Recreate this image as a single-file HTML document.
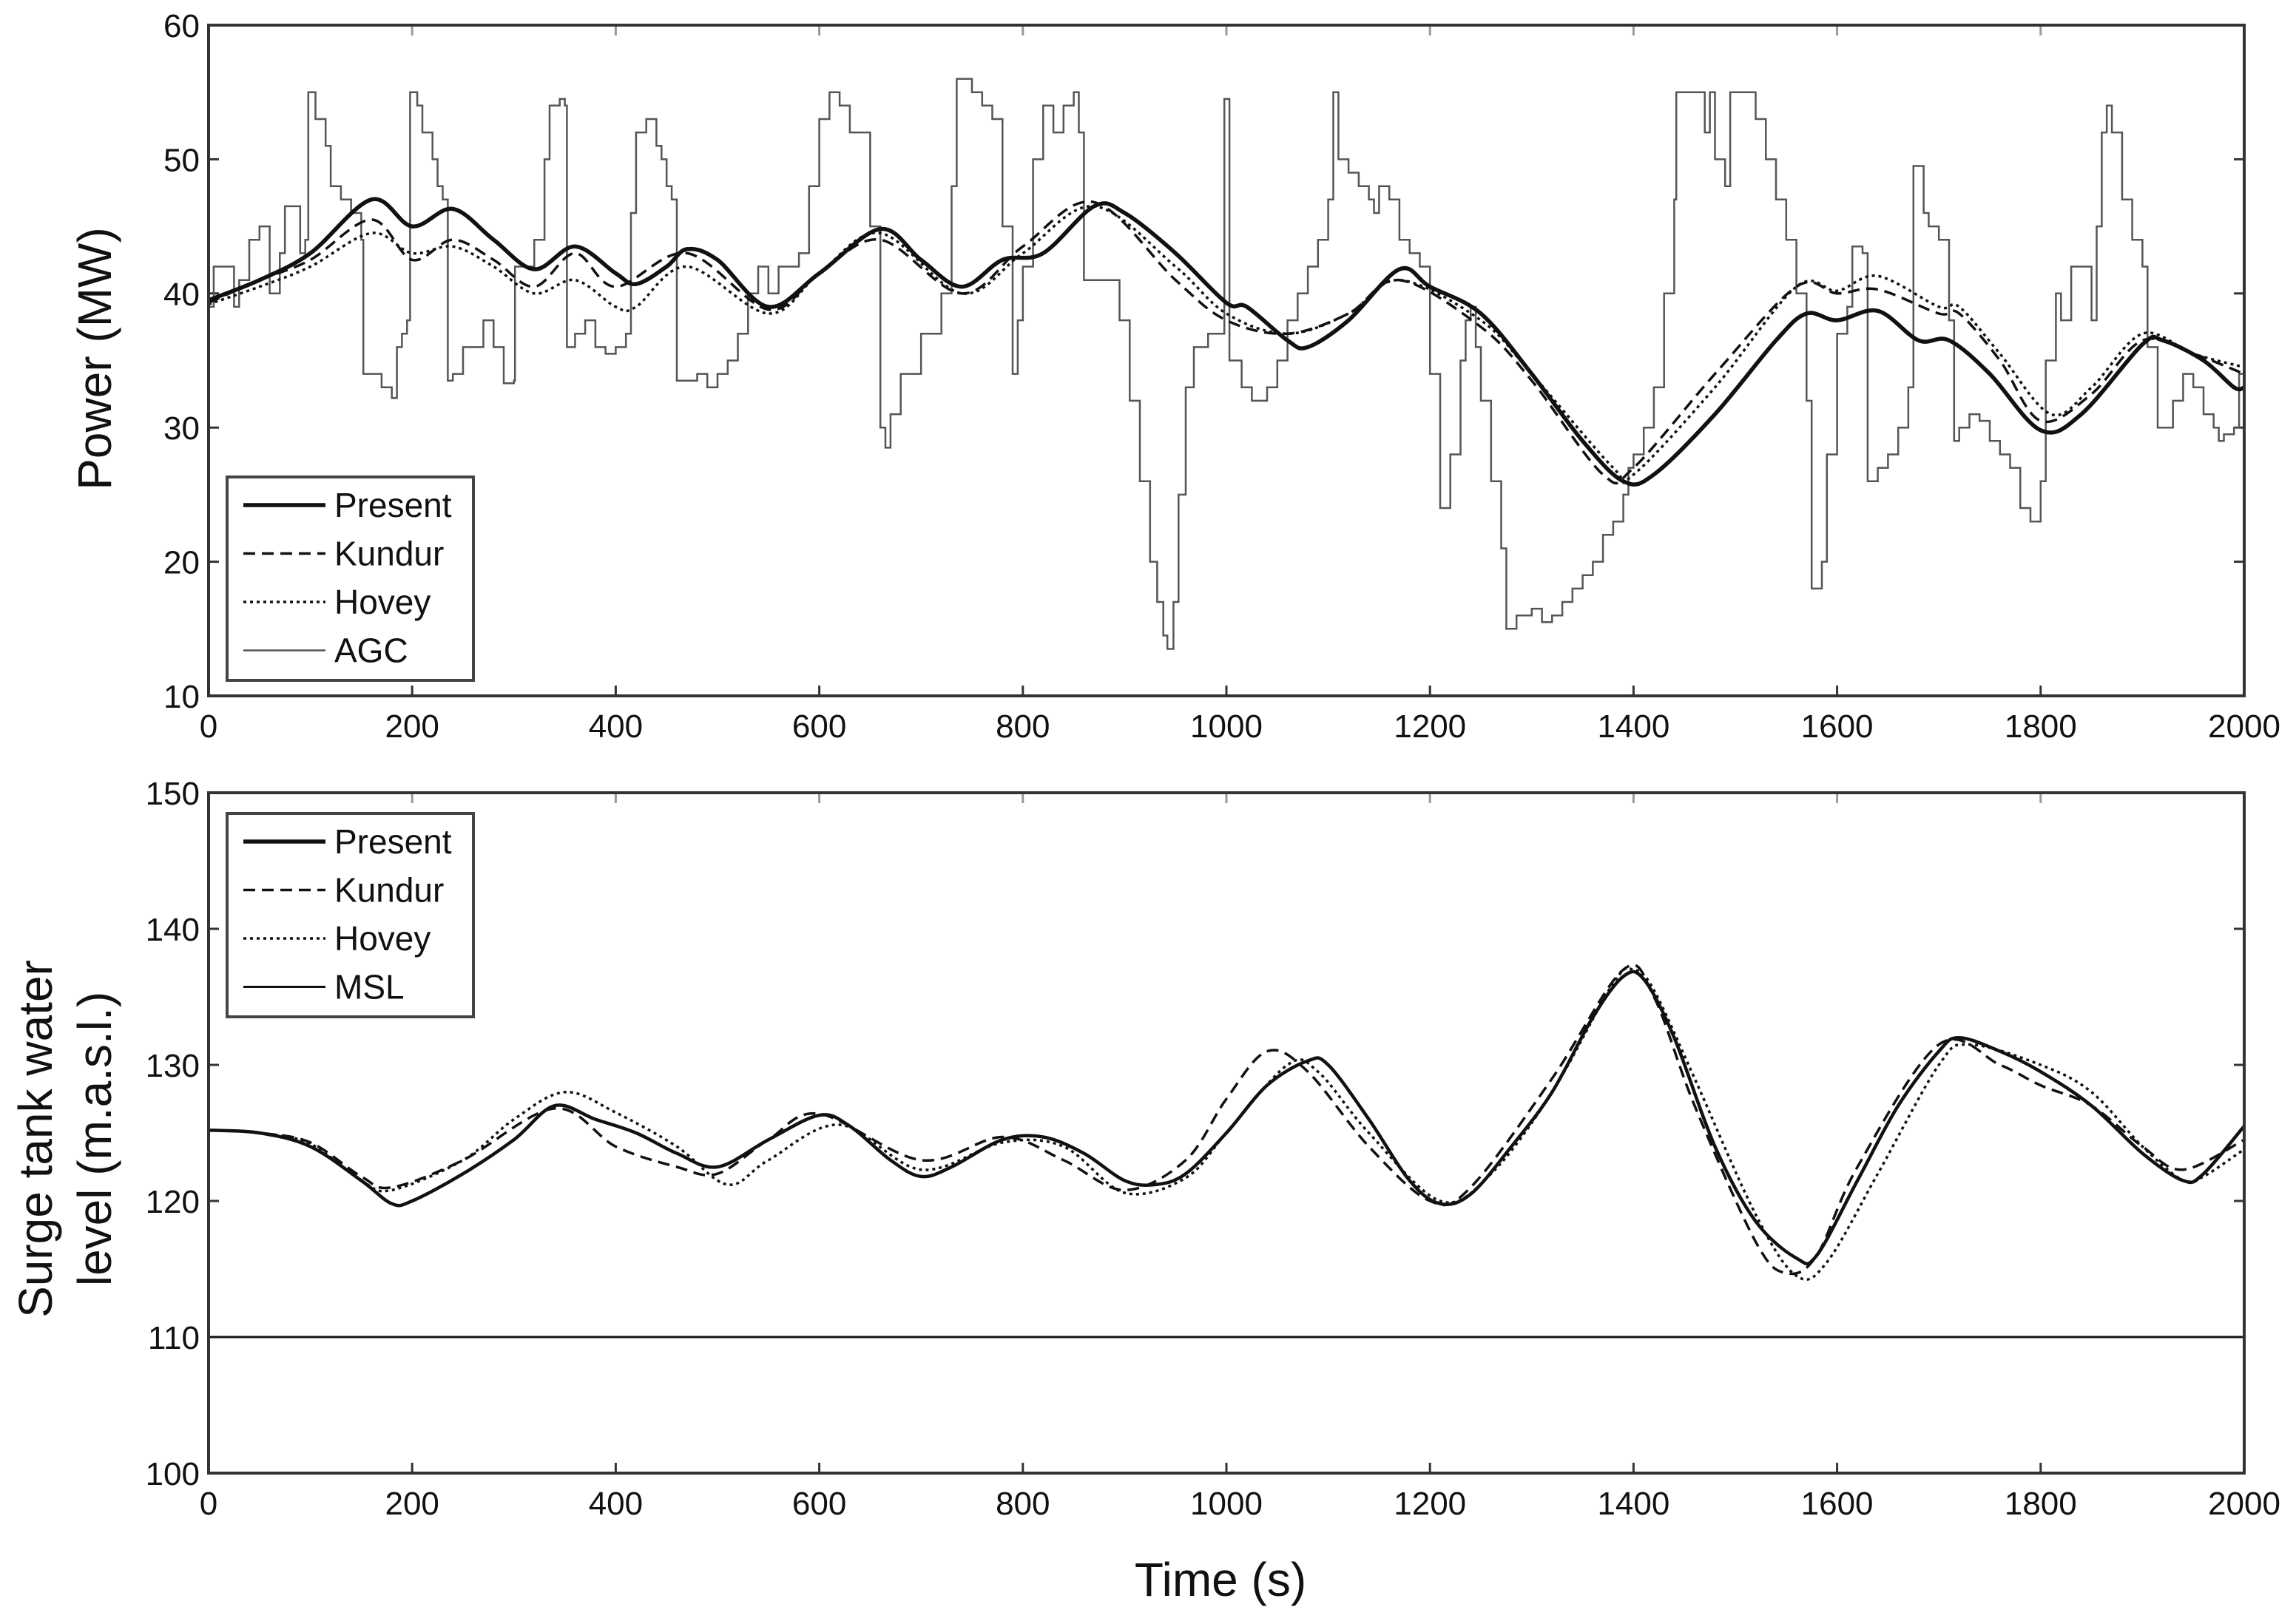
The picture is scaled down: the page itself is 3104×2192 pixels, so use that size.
<!DOCTYPE html>
<html><head><meta charset="utf-8"><style>
html,body{margin:0;padding:0;background:#fff;}
svg{display:block;font-family:"Liberation Sans",sans-serif;}
</style></head><body>
<svg id="fig" width="3104" height="2192" viewBox="0 0 3104 2192" xmlns="http://www.w3.org/2000/svg">
<g id="top"></g>
<g id="bot"></g>
<text x="1650" y="2158" font-size="64" text-anchor="middle" fill="#111">Time (s)</text>
<text transform="translate(150,485) rotate(-90)" font-size="64" text-anchor="middle" fill="#111">Power (MW)</text>
<text transform="translate(70,1540) rotate(-90)" font-size="64" text-anchor="middle" fill="#111">Surge tank water</text>
<text transform="translate(150,1540) rotate(-90)" font-size="64" text-anchor="middle" fill="#111">level (m.a.s.l.)</text>
</svg>
<script>
// ---- data ----
const xTicks = [0,200,400,600,800,1000,1200,1400,1600,1800,2000];
const powerTicks = [10,20,30,40,50,60];
const levelTicks = [100,110,120,130,140,150];

const presentPT = [0,50,100,160,200,240,280,320,360,400,420,450,470,500,550,600,660,700,740,780,820,870,900,950,1000,1020,1060,1080,1120,1170,1200,1250,1300,1350,1390,1420,1480,1540,1570,1600,1640,1680,1710,1750,1800,1840,1900,1920,1960,1990,2000];
const presentPV = [39.5,41,43,47,45,46.3,44,41.8,43.5,41.5,40.7,42,43.3,42.5,39,41.5,44.8,42.5,40.5,42.5,43,46.5,46,43,39.3,39,36.5,36,38,41.8,40.5,38.5,34,29,26,26.5,31,36.5,38.5,38,38.7,36.5,36.5,34,29.8,31,36.2,36.5,35,33,33];
const kundurPT = [0,50,100,160,200,240,280,320,360,400,470,550,600,660,740,800,870,950,1000,1060,1120,1170,1250,1300,1370,1400,1480,1560,1600,1640,1700,1720,1760,1800,1850,1900,1950,2000];
const kundurPV = [39.3,41,42.5,45.5,42.5,44,42.5,40.5,43,40.5,43,38.8,41.5,44,40,43.5,46.8,41,38,37,38.5,41,37.5,33.5,26.5,27,34,40.5,40,40.3,38.5,38.5,35,30.5,32.5,36.5,35.5,34];
const hoveyPT = [0,50,100,160,200,240,280,320,360,400,420,470,550,600,660,740,800,870,950,1000,1060,1120,1170,1250,1300,1380,1400,1480,1560,1600,1640,1700,1720,1760,1810,1850,1900,1950,2000];
const hoveyPV = [39.2,40.5,42,44.5,43,43.5,42,40,41,39,39,42,38.5,41.5,44.5,40,43,46.5,42,38.5,37,38.5,41,38,34,27,26.5,33,40.5,40.2,41.3,39,39,35.5,31,33,37,35.5,34.5];
const agcT = [0,5,20,25,30,40,50,60,70,75,85,90,95,98,105,115,120,130,140,150,152,160,170,180,185,190,195,198,205,210,220,225,230,235,240,250,260,270,280,290,300,301,310,320,330,335,345,350,352,360,370,380,390,400,410,415,420,430,440,445,450,455,460,470,480,490,500,510,520,530,540,550,560,580,590,600,610,620,630,650,660,665,670,680,700,720,730,735,750,760,770,780,790,795,800,810,820,830,840,850,855,
860,880,895,905,915,925,932,938,942,948,953,960,968,982,998,1003,1015,1025,1040,1050,1060,1070,1080,1090,1100,
1105,1110,1120,1130,1140,1145,1150,1160,1170,1180,1190,1200,1210,1220,1230,1235,1240,1245,1250,1260,1270,1275,1285,1300,1310,1320,1330,1340,1350,1360,1370,1380,1390,1395,1400,1410,1420,1430,1440,1442,1460,1470,1475,1480,1490,1495,1510,1520,1530,1540,1550,1560,1570,1575,1585,1590,1600,1610,1615,1625,1630,1640,1650,1660,1670,1675,1685,1690,1700,1710,1715,1720,1730,1740,1750,1760,1770,1780,1790,1800,1805,1815,1820,1830,1840,1850,1855,1860,1865,1870,1880,1890,1900,1905,1915,1930,1940,1950,1960,1970,1975,1980,1990,1995,2000];
const agcV = [39,42,42,39,41,44,45,40,43,46.5,46.5,43,44,55,53,51,48,47,46,44,34,34,33,32.2,36,37,38,55,54,52,50,48,47,33.5,34,36,36,38,36,33.3,33.5,42,42,44,50,54,54.5,54,36,37,38,36,35.5,36,37,46,52,53,51,50,48,47,33.5,33.5,34,33,34,35,37,40,42,40,42,43,48,53,55,54,52,45,30,28.5,31,34,37,40,48,56,55,54,53,45,34,38,42,50,54,52,54,55,52,
41,41,38,32,26,20,17,14.5,13.5,17,25,33,36,37,54.5,35,33,32,33,35,38,40,42,44,47,
55,50,49,48,47,46,48,47,44,43,42,34,24,28,35,38,39,36,32,26,21,15,16,16.5,15.5,16,17,18,19,20,22,23,25,27,28,30,33,40,47,55,55,52,55,50,48,55,55,53,50,47,44,40,32,18,20,28,37,39,43.5,43,26,27,28,30,33,49.5,46,45,44,38,29,30,31,30.5,29,28,27,24,23,26,35,40,38,42,42,38,45,52,54,52,47,44,42,36,30,32,34,33,31,30,29,29.5,30,34,38];

const presentLT = [0,50,100,150,180,200,250,300,340,380,420,460,500,550,600,630,670,700,730,780,820,860,900,930,960,1000,1040,1080,1100,1140,1180,1210,1240,1280,1320,1360,1390,1410,1440,1480,1520,1560,1580,1620,1660,1700,1720,1760,1800,1850,1900,1940,1960,2000];
const presentLV = [125.2,125,124,121.5,119.8,120,122,124.5,127,126,125,123.5,122.5,124.5,126.3,125.5,123,121.8,122.5,124.5,124.7,123.5,121.5,121.2,122,125,128.5,130.3,130,126,121.5,119.8,120.5,124,128,133.5,136.5,136.3,132,124,118.5,115.8,116,121.5,127,131,132,131,129.5,127,123.5,121.5,122,125.5];
const kundurLT = [0,50,100,150,180,250,340,400,460,500,550,600,700,780,840,900,960,1000,1040,1080,1140,1200,1240,1320,1390,1420,1460,1520,1550,1580,1620,1700,1760,1800,1850,1900,1940,2000];
const kundurLV = [125.2,125,124.3,121.8,121,123,126.8,124,122.5,122,124.5,126.4,123,124.7,123,120.8,123,127.5,131,129.5,124,120,121,129,137,135,127,117,114.7,116,122.5,131.5,130,128.5,127,124,122.3,124.5];
const hoveyLT = [0,50,100,150,180,250,300,350,400,460,510,550,620,700,780,840,900,960,1000,1060,1090,1140,1210,1260,1320,1380,1400,1420,1460,1520,1560,1590,1640,1700,1730,1800,1850,1900,1940,1960,2000];
const hoveyLV = [125.2,125,124.2,121.5,120.8,123,126,128,126.5,124,121.2,123,125.6,122.3,124.3,124,120.6,121.7,125,130,129.5,125,120,122,128,136,137,135.5,129,119,114.5,115.5,122,130,131.5,130,128,124,121.5,121.8,123.8];
const mslT = [0,2000];
const mslV = [110,110];

// ---- layout ----
const X0=282, X1=3034;
const T={y0:34,y1:941,min:10,max:60};
const B={y0:1072,y1:1992,min:100,max:150};
const NS='http://www.w3.org/2000/svg';
const sx = t => X0 + (t/2000)*(X1-X0);
function mk(tag, parent, attrs){const e=document.createElementNS(NS,tag);for(const k in attrs)e.setAttribute(k,attrs[k]);parent.appendChild(e);return e;}

function smoothPath(xs, ys){
  let d='M'+xs[0].toFixed(1)+','+ys[0].toFixed(1);
  for(let i=0;i<xs.length-1;i++){
    const x0=xs[Math.max(i-1,0)],y0=ys[Math.max(i-1,0)];
    const x1=xs[i],y1=ys[i],x2=xs[i+1],y2=ys[i+1];
    const x3=xs[Math.min(i+2,xs.length-1)],y3=ys[Math.min(i+2,xs.length-1)];
    const c1x=x1+(x2-x0)/6,c1y=y1+(y2-y0)/6,c2x=x2-(x3-x1)/6,c2y=y2-(y3-y1)/6;
    d+=' C'+c1x.toFixed(1)+','+c1y.toFixed(1)+' '+c2x.toFixed(1)+','+c2y.toFixed(1)+' '+x2.toFixed(1)+','+y2.toFixed(1);
  }
  return d;
}

function axes(g, P, yTicks){
  const sy = v => P.y1 - (v-P.min)/(P.max-P.min)*(P.y1-P.y0);
  mk('rect', g, {x:X0,y:P.y0,width:X1-X0,height:P.y1-P.y0,fill:'#fff',stroke:'none'});
  for(const t of xTicks){
    const tk=mk('line', g, {x1:sx(t),x2:sx(t),y1:P.y1,y2:P.y1-14,stroke:'#333','stroke-width':3});
    
    
    const tk2=mk('line', g, {x1:sx(t),x2:sx(t),y1:P.y0,y2:P.y0+14,stroke:'#999','stroke-width':3});
    
    
    const lb=mk('text', g, {x:sx(t),y:P.y1+56,'font-size':44,'text-anchor':'middle',fill:'#111'});
    lb.textContent=t;
    
    
  }
  for(const v of yTicks){
    const tk=mk('line', g, {x1:X0,x2:X0+14,y1:sy(v),y2:sy(v),stroke:'#333','stroke-width':3});
    
    
    const tk2=mk('line', g, {x1:X1,x2:X1-14,y1:sy(v),y2:sy(v),stroke:'#333','stroke-width':3});
    
    
    const lb=mk('text', g, {x:X0-12,y:sy(v)+16,'font-size':44,'text-anchor':'end',fill:'#111'});
    lb.textContent=v;
    
    
  }
  return sy;
}

function frame(g,P){
  const f=mk('rect', g, {x:X0,y:P.y0,width:X1-X0,height:P.y1-P.y0,fill:'none',stroke:'#333','stroke-width':4});
  
  
}

function legend(g, top, names, styles){
  const box=mk('rect', g, {x:307,y:top,width:333,height:275,fill:'#fff',stroke:'#444','stroke-width':4});
  
  
  names.forEach((n,i)=>{
    const y=top+38+i*65.5;
    const ln=mk('line', g, Object.assign({x1:329,x2:440,y1:y,y2:y,fill:'none'},styles[i]));
    
    
    const tx=mk('text', g, {x:452,y:y+16,'font-size':46,fill:'#111'});
    tx.textContent=n;
    
    
  });
}

const stPresent={stroke:'#111','stroke-width':5.5};
const stKundur={stroke:'#111','stroke-width':3.5,'stroke-dasharray':'16,9'};
const stHovey={stroke:'#111','stroke-width':3.5,'stroke-dasharray':'4,5'};
const stAGC={stroke:'#555','stroke-width':2.5};
const stMSL={stroke:'#111','stroke-width':3};

// top
const gT=document.getElementById('top');
const syT=axes(gT,T,powerTicks);
let p;
{
  let d='M'+sx(agcT[0]).toFixed(1)+','+syT(agcV[0]).toFixed(1);
  for(let i=1;i<agcT.length;i++){d+=' H'+sx(agcT[i]).toFixed(1)+' V'+syT(agcV[i]).toFixed(1);}
  p=mk('path', gT, Object.assign({d:d,fill:'none','stroke-linejoin':'miter'},stAGC));
  
  
}
p=mk('path', gT, Object.assign({d:smoothPath(hoveyPT.map(sx),hoveyPV.map(syT)),fill:'none'},stHovey));


p=mk('path', gT, Object.assign({d:smoothPath(kundurPT.map(sx),kundurPV.map(syT)),fill:'none'},stKundur));


p=mk('path', gT, Object.assign({d:smoothPath(presentPT.map(sx),presentPV.map(syT)),fill:'none'},stPresent));


frame(gT,T);
legend(gT,645,['Present','Kundur','Hovey','AGC'],[stPresent,stKundur,stHovey,stAGC]);

// bottom
const gB=document.getElementById('bot');
const syB=axes(gB,B,levelTicks);
p=mk('path', gB, Object.assign({d:'M'+sx(mslT[0])+','+syB(mslV[0])+' L'+sx(mslT[1])+','+syB(mslV[1]),fill:'none'},stMSL));


p=mk('path', gB, Object.assign({d:smoothPath(hoveyLT.map(sx),hoveyLV.map(syB)),fill:'none'},stHovey));


p=mk('path', gB, Object.assign({d:smoothPath(kundurLT.map(sx),kundurLV.map(syB)),fill:'none'},stKundur));


p=mk('path', gB, Object.assign({d:smoothPath(presentLT.map(sx),presentLV.map(syB)),fill:'none'},{stroke:'#111','stroke-width':4.5}));


frame(gB,B);
legend(gB,1100,['Present','Kundur','Hovey','MSL'],[stPresent,stKundur,stHovey,stMSL]);
</script>
</body></html>
